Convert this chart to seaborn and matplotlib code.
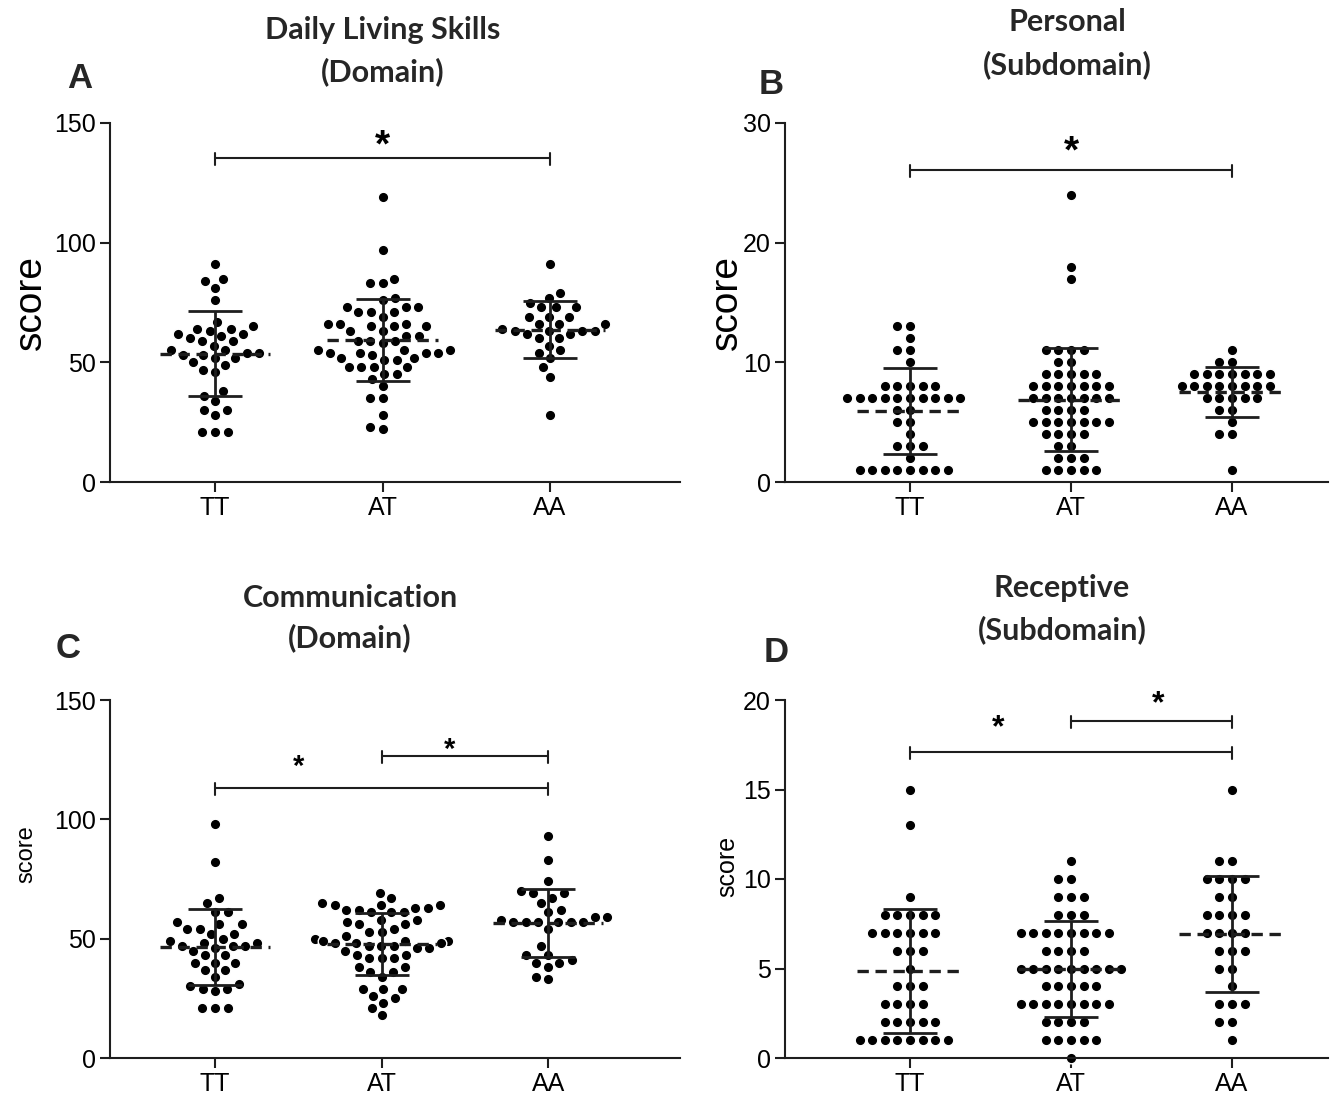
import numpy as np
import pandas as pd
import matplotlib
matplotlib.use('Agg')
import matplotlib.pyplot as plt
import seaborn as sns

groups = ['TT', 'AT', 'AA']

# Panel A: Daily Living Skills (Domain)
dls_tt = [91, 85, 84, 81, 76, 67, 65, 64, 64, 62, 63, 62, 61, 60, 59, 59, 57, 55, 55,
          54, 53, 52, 54, 53, 52, 49, 50, 46, 47, 38, 36, 34, 30, 28, 30, 21, 21, 21]
dls_at = [119, 97, 83, 83, 85, 76, 77, 73, 73, 73, 69, 71, 71, 71, 66, 65, 65, 65, 66,
          66, 63, 63, 59, 61, 59, 59, 58, 61, 55, 54, 55, 55, 54, 53, 54, 54, 52, 51,
          51, 52, 48, 48, 48, 48, 45, 45, 43, 40, 35, 35, 28, 22, 23]
dls_aa = [91, 79, 77, 75, 73, 73, 73, 69, 69, 69, 66, 66, 66, 64, 63, 63, 63, 63, 62,
          62, 60, 60, 57, 55, 54, 52, 48, 44, 28]

# Panel B: Personal (Subdomain)
pers_tt = [13, 13, 12, 11, 11, 10, 8, 8, 8, 8, 8, 7, 7, 7, 7, 7, 7, 7, 7, 7, 7, 6, 6,
           5, 5, 4, 3, 3, 3, 2, 1, 1, 1, 1, 1, 1, 1, 1]
pers_at = [24, 18, 17, 11, 11, 11, 11, 10, 10, 9, 9, 9, 9, 9, 8, 8, 8, 8, 8, 8, 8,
           7, 7, 7, 7, 7, 7, 7, 6, 6, 6, 6, 5, 5, 5, 5, 5, 5, 5, 4, 4, 4, 4, 3, 3,
           2, 2, 2, 1, 1, 1, 1, 1]
pers_aa = [11, 10, 10, 9, 9, 9, 9, 9, 9, 9, 8, 8, 8, 8, 8, 8, 8, 8, 7, 7, 7, 7, 7,
           6, 6, 5, 4, 4, 1]

# Panel C: Communication (Domain)
comm_tt = [98, 82, 67, 65, 61, 61, 57, 56, 56, 54, 54, 52, 52, 50, 49, 48, 48, 47, 47,
           47, 46, 45, 43, 43, 40, 40, 40, 37, 37, 34, 31, 30, 29, 29, 28, 21, 21, 21]
comm_at = [69, 67, 65, 64, 64, 64, 63, 63, 62, 62, 61, 61, 61, 58, 58, 57, 56, 56, 54,
           53, 53, 51, 50, 49, 49, 49, 48, 48, 48, 47, 47, 47, 46, 46, 45, 43, 43, 42,
           42, 42, 38, 38, 36, 36, 34, 29, 29, 29, 26, 25, 23, 21, 18]
comm_aa = [93, 83, 74, 69, 69, 70, 67, 65, 62, 61, 57, 59, 57, 57, 59, 57, 57, 58, 57,
           54, 47, 43, 43, 40, 41, 38, 40, 34, 33]

# Panel D: Receptive (Subdomain)
rec_tt = [15, 13, 9, 8, 8, 8, 8, 8, 7, 7, 7, 7, 7, 7, 6, 6, 6, 5, 4, 4, 4, 3, 3, 3, 3,
          2, 2, 2, 2, 2, 1, 1, 1, 1, 1, 1, 1, 1]
rec_at = [11, 10, 10, 9, 9, 9, 8, 8, 8, 7, 7, 7, 7, 7, 7, 7, 7, 6, 6, 6, 6, 5, 5, 5,
          5, 5, 5, 5, 5, 5, 4, 4, 4, 4, 4, 3, 3, 3, 3, 3, 3, 3, 3, 2, 2, 2, 2, 1, 1,
          1, 1, 1, 0]
rec_aa = [15, 11, 11, 10, 10, 10, 10, 9, 9, 8, 8, 8, 8, 7, 7, 7, 7, 6, 6, 6, 5, 5, 4,
          3, 3, 3, 2, 2, 1]

titles = [("Daily Living Skills", "(Domain)"), ("Personal", "(Subdomain)"),
          ("Communication", "(Domain)"), ("Receptive", "(Subdomain)")]
letters = ["A", "B", "C", "D"]
yticks_list = [[0, 50, 100, 150], [0, 10, 20, 30], [0, 50, 100, 150], [0, 5, 10, 15, 20]]
# significance brackets: (group_from, group_to, height)
sig_brackets = [[(0, 2, 135.4)], [(0, 2, 26.1)],
                [(0, 2, 113.1), (1, 2, 126.5)], [(0, 2, 17.1), (1, 2, 18.8)]]
sig_stars = [[(1.0, 140.0)], [(1.0, 27.5)],
             [(0.5, 122.0), (1.41, 129.0)], [(0.55, 18.4), (1.54, 19.75)]]

sns.set_theme(style='ticks')
plt.rcParams['font.family'] = ['Liberation Sans', 'DejaVu Sans']

W, H = 1330, 1098
fig = plt.figure(figsize=(W / 100, H / 100), dpi=100)
fig.patch.set_facecolor('white')

def add_ax(l, r, t, b):
    return fig.add_axes([l / W, 1 - b / H, (r - l) / W, (b - t) / H])

layout = [
    dict(box=(110, 680, 123, 482), xlim=(-0.627, 2.776), data=(dls_tt, dls_at, dls_aa),
         title_xy=(383, 30, 72), letter_xy=(80, 78), ylab=(-0.108, 0.5, 28), starfs=28),
    dict(box=(785, 1328, 123, 482), xlim=(-0.776, 2.596), data=(pers_tt, pers_at, pers_aa),
         title_xy=(1067, 22, 65), letter_xy=(771, 85), ylab=(-0.074, 0.5, 28), starfs=28),
    dict(box=(110, 680, 700, 1058), xlim=(-0.63, 2.79), data=(comm_tt, comm_at, comm_aa),
         title_xy=(350, 598, 638), letter_xy=(68, 648), ylab=(-0.128, 0.57, 17), starfs=21),
    dict(box=(785, 1328, 700, 1058), xlim=(-0.776, 2.596), data=(rec_tt, rec_at, rec_aa),
         title_xy=(1062, 588, 630), letter_xy=(776, 652), ylab=(-0.085, 0.536, 18), starfs=23),
]

ink = '#1e1e1e'

for i, cfg in enumerate(layout):
    ax = add_ax(*cfg['box'])
    tt, at, aa = cfg['data']
    df = pd.DataFrame({
        'group': ['TT'] * len(tt) + ['AT'] * len(at) + ['AA'] * len(aa),
        'score': list(tt) + list(at) + list(aa),
    })
    sns.swarmplot(data=df, x='group', y='score', order=groups, color='black',
                  size=7.6, edgecolor='white', linewidth=1.0, ax=ax, zorder=2,
                  warn_thresh=1.0)
    for coll in ax.collections:
        coll.set_clip_on(False)

    stats = df.groupby('group')['score'].agg(['mean', 'std']).reindex(groups)
    pos = np.arange(len(groups))
    ax.errorbar(pos, stats['mean'].values, yerr=stats['std'].values, fmt='none',
                ecolor=ink, elinewidth=2.0, capsize=19.5, capthick=2.0, zorder=4)
    for p, m in zip(pos, stats['mean'].values):
        ax.plot([p - 0.33, p + 0.33], [m, m], color=ink, lw=2.4,
                dashes=(3.4, 2.0), zorder=5, solid_capstyle='butt')

    yt = yticks_list[i]
    ax.set_ylim(yt[0], yt[-1])
    ax.set_yticks(yt)
    ax.set_xlim(*cfg['xlim'])
    ax.set_xlabel('')
    ax.set_ylabel('score', fontsize=cfg['ylab'][2], color='black')
    ax.yaxis.set_label_coords(cfg['ylab'][0], cfg['ylab'][1])
    sns.despine(ax=ax)
    for sp in ['left', 'bottom']:
        ax.spines[sp].set_linewidth(1.5)
        ax.spines[sp].set_color(ink)
    ax.tick_params(axis='both', length=7, width=1.5, color=ink, labelsize=18,
                   labelcolor='black', pad=3)
    ax.set_facecolor('white')

    # significance brackets
    yr = yt[-1] - yt[0]
    ppx = (cfg['box'][3] - cfg['box'][2]) / yr
    for g0, g1, h in sig_brackets[i]:
        ax.plot([g0, g1], [h, h], color=ink, lw=1.5, clip_on=False, zorder=3)
        for g in (g0, g1):
            ax.plot([g, g], [h + 5 / ppx, h - 7 / ppx], color=ink, lw=1.5,
                    clip_on=False, zorder=3)
    for sx, sy in sig_stars[i]:
        ax.text(sx, sy, '*', ha='center', va='center', fontsize=cfg['starfs'],
                fontweight='bold', color='black', clip_on=False)

    tx, ty1, ty2 = cfg['title_xy']
    fig.text(tx / W, 1 - ty1 / H, titles[i][0], ha='center', va='center',
             fontsize=22, fontweight='bold', family=['Lato', 'DejaVu Sans'])
    fig.text(tx / W, 1 - ty2 / H, titles[i][1], ha='center', va='center',
             fontsize=22, fontweight='bold', family=['Lato', 'DejaVu Sans'])
    lx, ly = cfg['letter_xy']
    fig.text(lx / W, 1 - ly / H, letters[i], ha='center', va='center',
             fontsize=25, fontweight='bold')

fig.savefig('out.png', dpi=100, facecolor='white')
